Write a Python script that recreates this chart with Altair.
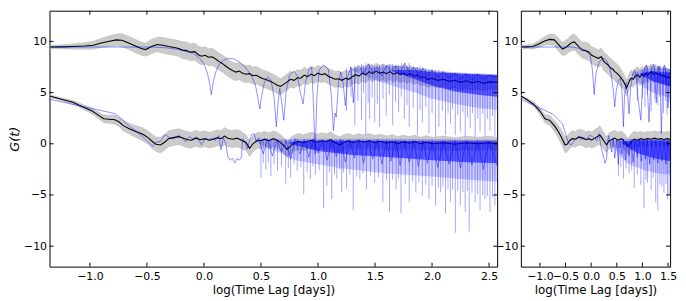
import altair as alt
import pandas as pd

# ---------------- axes ----------------
Y_DOMAIN = [-12, 13]
L_X_DOMAIN = [-1.354, 2.571]
R_X_DOMAIN = [-1.371, 1.54]
L_X_TICKS = [-1.0, -0.5, 0.0, 0.5, 1.0, 1.5, 2.0, 2.5]
R_X_TICKS = [-1.0, -0.5, 0.0, 0.5, 1.0, 1.5]
Y_TICKS = [-10, -5, 0, 5, 10]
X_TITLE = "log(Time Lag [days])"
Y_TITLE = "G(t)"

# ---------------- left panel ----------------
# mean curve: (x, y, half-width of grey band)
L_UP_MEAN = [
    (-1.354, 9.45, 0.12), (-1.25, 9.47, 0.15), (-1.15, 9.5, 0.2), (-1.05, 9.55, 0.25),
    (-0.97, 9.62, 0.3), (-0.9, 9.85, 0.35), (-0.84, 10.0, 0.4), (-0.77, 10.15, 0.45),
    (-0.72, 10.12, 0.5), (-0.66, 9.85, 0.5), (-0.6, 9.55, 0.5), (-0.55, 9.3, 0.5),
    (-0.51, 9.2, 0.5), (-0.46, 9.5, 0.55), (-0.41, 9.7, 0.55), (-0.36, 9.62, 0.6),
    (-0.31, 9.5, 0.6), (-0.26, 9.4, 0.6), (-0.22, 9.3, 0.6), (-0.19, 9.15, 0.65),
    (-0.15, 9.1, 0.65), (-0.12, 8.95, 0.65), (-0.08, 9.0, 0.65), (-0.05, 8.7, 0.65),
    (-0.02, 8.55, 0.65), (0.01, 8.65, 0.65), (0.04, 8.45, 0.65), (0.07, 8.5, 0.65),
    (0.1, 8.3, 0.65), (0.13, 8.05, 0.65), (0.16, 7.85, 0.65), (0.19, 7.6, 0.65),
    (0.22, 7.35, 0.65), (0.25, 7.15, 0.65), (0.28, 7.0, 0.65), (0.31, 7.1, 0.65),
    (0.34, 6.9, 0.65), (0.37, 6.8, 0.65), (0.4, 6.85, 0.65), (0.43, 6.65, 0.65),
    (0.46, 6.7, 0.65), (0.49, 6.5, 0.65), (0.52, 6.35, 0.65), (0.55, 6.25, 0.65),
    (0.58, 6.1, 0.65), (0.61, 5.95, 0.65), (0.64, 5.75, 0.65), (0.67, 5.6, 0.6),
    (0.7, 5.8, 0.6), (0.73, 6.05, 0.6), (0.76, 6.3, 0.6), (0.79, 6.2, 0.6),
    (0.82, 6.45, 0.6), (0.85, 6.4, 0.6), (0.88, 6.7, 0.6), (0.91, 6.55, 0.6),
    (0.94, 6.8, 0.6), (0.97, 6.65, 0.6), (1.0, 6.9, 0.6), (1.03, 6.75, 0.6),
    (1.06, 6.85, 0.6), (1.09, 6.6, 0.6), (1.12, 6.45, 0.6), (1.15, 6.3, 0.6),
    (1.18, 6.35, 0.6), (1.21, 6.2, 0.6), (1.24, 6.4, 0.6), (1.27, 6.3, 0.6),
    (1.3, 6.55, 0.6), (1.33, 6.75, 0.6), (1.36, 6.6, 0.6), (1.39, 6.9, 0.6),
    (1.42, 6.75, 0.6), (1.45, 7.05, 0.6), (1.48, 6.85, 0.6), (1.51, 7.1, 0.6),
    (1.54, 6.9, 0.6), (1.57, 7.0, 0.6), (1.6, 6.85, 0.6), (1.63, 7.05, 0.6),
    (1.66, 6.8, 0.6), (1.69, 6.95, 0.6), (1.72, 6.75, 0.6), (1.75, 6.9, 0.6),
    (1.78, 6.7, 0.6), (1.81, 6.85, 0.6), (1.84, 6.6, 0.6), (1.87, 6.7, 0.6),
    (1.9, 6.45, 0.6), (1.93, 6.55, 0.6), (1.96, 6.3, 0.6), (2.0, 6.4, 0.6),
    (2.05, 6.2, 0.55), (2.1, 6.3, 0.55), (2.15, 6.1, 0.55), (2.2, 6.2, 0.55),
    (2.25, 6.0, 0.55), (2.3, 6.15, 0.55), (2.35, 5.95, 0.55), (2.4, 6.1, 0.55),
    (2.45, 5.9, 0.55), (2.5, 6.05, 0.55), (2.571, 6.0, 0.55),
]
L_LO_MEAN = [
    (-1.354, 4.67, 0.1), (-1.25, 4.35, 0.12), (-1.15, 4.05, 0.15), (-1.06, 3.6, 0.18),
    (-0.98, 3.2, 0.22), (-0.92, 2.75, 0.25), (-0.88, 2.45, 0.3), (-0.83, 2.4, 0.3),
    (-0.78, 2.35, 0.35), (-0.74, 2.1, 0.35), (-0.71, 1.8, 0.4), (-0.66, 1.5, 0.4),
    (-0.6, 1.2, 0.45), (-0.54, 0.95, 0.5), (-0.49, 0.6, 0.5), (-0.45, 0.2, 0.55),
    (-0.42, -0.05, 0.55), (-0.38, -0.12, 0.6), (-0.34, 0.2, 0.6), (-0.31, 0.5, 0.6),
    (-0.27, 0.6, 0.6), (-0.22, 0.7, 0.6), (-0.18, 0.55, 0.6), (-0.14, 0.4, 0.6),
    (-0.11, 0.35, 0.6), (-0.07, 0.55, 0.6), (-0.03, 0.4, 0.6), (0.01, 0.5, 0.6),
    (0.05, 0.35, 0.6), (0.08, 0.45, 0.6), (0.12, 0.6, 0.6), (0.15, 0.5, 0.6),
    (0.18, 0.75, 0.65), (0.21, 0.55, 0.65), (0.25, 0.45, 0.65), (0.29, 0.55, 0.65),
    (0.33, 0.35, 0.65), (0.37, 0.1, 0.6), (0.4, -0.45, 0.6), (0.43, 0.0, 0.6),
    (0.47, 0.35, 0.6), (0.5, 0.3, 0.6), (0.53, 0.45, 0.6), (0.57, 0.3, 0.6),
    (0.61, 0.5, 0.6), (0.65, 0.3, 0.6), (0.69, -0.05, 0.6), (0.73, -0.55, 0.6),
    (0.76, -0.2, 0.6), (0.79, 0.05, 0.6), (0.83, 0.25, 0.6), (0.87, 0.1, 0.6),
    (0.91, 0.25, 0.6), (0.95, 0.35, 0.6), (0.99, 0.15, 0.6), (1.03, 0.3, 0.6),
    (1.07, 0.2, 0.6), (1.11, 0.4, 0.6), (1.15, 0.1, 0.6), (1.19, -0.1, 0.6),
    (1.23, 0.15, 0.6), (1.27, 0.3, 0.55), (1.31, 0.1, 0.55), (1.35, 0.3, 0.55),
    (1.4, 0.15, 0.55), (1.45, 0.3, 0.55), (1.5, 0.1, 0.55), (1.55, 0.25, 0.55),
    (1.6, 0.05, 0.55), (1.65, 0.2, 0.55), (1.7, 0.0, 0.55), (1.75, 0.2, 0.5),
    (1.8, 0.05, 0.5), (1.85, 0.2, 0.5), (1.9, 0.0, 0.5), (1.95, 0.15, 0.5),
    (2.0, 0.0, 0.5), (2.1, 0.1, 0.5), (2.2, -0.05, 0.5), (2.3, 0.1, 0.5),
    (2.4, 0.0, 0.5), (2.5, 0.1, 0.5), (2.571, 0.0, 0.5),
]
# single realisation (blue): (x, y)
L_UP_BLUE = [
    (-1.354, 9.45), (-0.45, 9.45), (-0.3, 9.35), (-0.2, 9.15), (-0.1, 8.85), (-0.04, 8.4),
    (0.0, 7.8), (0.03, 6.9), (0.05, 5.9), (0.065, 4.8), (0.08, 5.9), (0.1, 6.9),
    (0.13, 7.7), (0.17, 8.15), (0.21, 8.35), (0.26, 8.3), (0.31, 8.0), (0.36, 7.5),
    (0.41, 6.8), (0.45, 5.8), (0.475, 4.4), (0.49, 3.4), (0.505, 4.6), (0.53, 6.0),
    (0.56, 6.5), (0.59, 6.2), (0.615, 4.5), (0.635, 1.65), (0.65, 4.0), (0.665, 5.4),
    (0.68, 4.2), (0.7, 2.3), (0.72, 5.0), (0.75, 6.7), (0.79, 7.1), (0.82, 6.6),
    (0.845, 5.0), (0.87, 3.9), (0.89, 6.0), (0.92, 7.2), (0.945, 7.5), (0.96, 4.0),
    (0.975, -1.0), (0.99, 4.5), (1.01, 7.2), (1.05, 7.7), (1.09, 7.3), (1.115, 5.0),
    (1.135, 1.3), (1.15, 3.0), (1.16, 2.6), (1.18, 6.0), (1.2, 7.0), (1.22, 6.0),
    (1.24, 3.7), (1.26, 6.5), (1.29, 7.5), (1.31, 4.0), (1.33, 7.3), (1.36, 7.6),
    (1.4, 6.8), (1.44, 7.8), (1.48, 7.0), (1.52, 7.5), (1.56, 6.6), (1.6, 7.7),
    (1.64, 7.1), (1.68, 7.6), (1.72, 6.9), (1.76, 7.9), (1.8, 7.0), (1.84, 7.5),
    (1.88, 6.8), (1.92, 7.4), (1.96, 6.6), (2.0, 7.2), (2.05, 6.5), (2.1, 7.0),
    (2.15, 6.4), (2.2, 6.9), (2.25, 6.3), (2.3, 6.8), (2.35, 6.2), (2.4, 6.8),
    (2.45, 6.3), (2.5, 6.7), (2.571, 6.5),
]
L_LO_BLUE = [
    (-1.354, 4.35), (-0.78, 2.95), (-0.72, 2.4), (-0.66, 1.75), (-0.6, 1.3), (-0.55, 0.8),
    (-0.5, 0.3), (-0.45, -0.25), (-0.42, 0.15), (-0.38, 0.25), (-0.34, 0.9), (-0.3, 0.6),
    (-0.26, 0.5), (-0.22, 0.85), (-0.19, 0.55), (-0.16, 0.2), (-0.13, 0.7), (-0.1, 0.5),
    (-0.06, 0.65), (-0.02, -0.1), (0.01, 0.5), (0.04, 0.35), (0.07, 0.6), (0.1, 0.3),
    (0.13, 0.8), (0.15, -0.6), (0.17, 0.6), (0.19, 0.1), (0.21, -1.3), (0.23, -1.6),
    (0.25, -1.4), (0.27, -1.85), (0.29, -1.45), (0.31, -1.6), (0.33, -1.3), (0.34, 0.5),
    (0.36, 0.2), (0.38, -0.5), (0.4, 0.3), (0.42, 0.9), (0.44, 1.0), (0.46, 0.2),
    (0.48, 0.6), (0.52, -1.0), (0.56, 0.5), (0.6, -1.2), (0.64, 0.4), (0.68, -0.8),
    (0.72, 0.3), (0.76, -1.5), (0.8, 0.5), (0.84, -1.0), (0.88, 0.4), (0.92, -1.3),
    (0.96, 0.5), (1.0, -0.9), (1.04, 0.4), (1.08, -1.6), (1.12, 0.3), (1.16, -1.2),
    (1.2, 0.4), (1.24, -1.8), (1.28, 0.3), (1.32, -1.4), (1.36, 0.4), (1.4, -1.9),
    (1.44, 0.3), (1.48, -1.5), (1.52, 0.4), (1.56, -2.0), (1.6, 0.3), (1.64, -1.7),
    (1.68, 0.3), (1.72, -2.1), (1.76, 0.3), (1.8, -1.8), (1.84, 0.3), (1.88, -2.2),
    (1.92, 0.3), (1.96, -1.9), (2.0, 0.3), (2.05, -2.3), (2.1, 0.3), (2.15, -2.0),
    (2.2, 0.3), (2.25, -2.4), (2.3, 0.3), (2.35, -2.1), (2.4, 0.3), (2.45, -2.5),
    (2.5, 0.3), (2.571, -2.2),
]
# downward spikes of the blue curve: (x, top, bottom)
L_UP_SPIKES = [
    (1.251, 7.4, 3.2), (1.29, 7.5, 4.6), (1.323, 7.6, 1.8), (1.35, 7.7, 4.2), (1.381, 7.8, 2.3),
    (1.40, 7.6, 5.0), (1.419, 7.9, 0.85), (1.44, 7.7, 4.0), (1.453, 7.7, 2.45), (1.475, 7.8, 4.5),
    (1.497, 7.6, 2.1), (1.52, 7.7, 3.9), (1.54, 7.7, 1.65), (1.57, 7.8, 4.4), (1.598, 7.6, 2.75),
    (1.625, 7.7, 4.8), (1.655, 7.8, 1.8), (1.68, 7.6, 4.1), (1.707, 7.7, 3.1), (1.73, 7.9, 4.6),
    (1.757, 7.8, 2.45), (1.78, 7.7, 3.8), (1.8, 7.9, 1.65), (1.835, 7.6, 3.5), (1.872, 7.5, 0.85),
    (1.895, 7.6, 3.3), (1.915, 7.5, 2.1), (1.945, 7.4, 3.6), (1.973, 7.3, 1.0), (2.0, 7.3, 3.0),
    (2.031, 7.2, 0.7), (2.06, 7.2, 1.65), (2.09, 7.1, 3.2), (2.118, 7.0, 0.85), (2.14, 7.0, 3.0),
    (2.161, 7.0, 1.95), (2.18, 6.9, 3.4), (2.204, 6.9, 0.85), (2.225, 6.9, 2.8), (2.248, 6.9, 1.2),
    (2.27, 6.8, 3.1), (2.291, 6.8, 0.7), (2.31, 6.8, 2.6), (2.334, 6.8, 1.5), (2.355, 6.8, 3.0),
    (2.378, 6.8, 0.7), (2.40, 6.8, 2.5), (2.421, 6.8, 1.2), (2.445, 6.8, 2.9), (2.464, 6.8, 0.7),
    (2.485, 6.7, 2.4), (2.508, 6.7, 1.3), (2.53, 6.7, 2.7), (2.551, 6.7, 0.7),
]
L_LO_SPIKES = [
    (0.50, 0.5, -3.3), (0.52, 0.4, -1.9), (0.543, 0.5, -2.5), (0.565, 0.3, -1.8), (0.587, 0.5, -3.15),
    (0.615, 0.4, -2.0), (0.645, 0.4, -2.65), (0.68, 0.3, -2.2), (0.717, 0.4, -3.9), (0.74, 0.3, -2.4),
    (0.76, 0.4, -3.3), (0.79, 0.3, -2.0), (0.818, 0.5, -2.65), (0.85, 0.3, -2.3), (0.875, 0.4, -4.9),
    (0.905, 0.4, -2.8), (0.933, 0.4, -3.45), (0.955, 0.4, -2.2), (0.977, 0.4, -3.0), (1.01, 0.4, -2.6),
    (1.049, 0.4, -6.3), (1.078, 0.4, -4.1), (1.10, 0.4, -2.8), (1.121, 0.4, -5.4), (1.145, 0.4, -3.0),
    (1.165, 0.4, -3.45), (1.19, 0.4, -2.5), (1.208, 0.4, -4.75), (1.222, 0.4, -2.8), (1.251, 0.4, -4.4),
    (1.28, 0.4, -3.0), (1.309, 0.4, -6.5), (1.34, 0.4, -3.2), (1.367, 0.4, -3.45), (1.395, 0.4, -2.9),
    (1.425, 0.4, -4.4), (1.46, 0.4, -3.1), (1.497, 0.4, -3.8), (1.53, 0.4, -3.3), (1.569, 0.4, -5.7),
    (1.60, 0.4, -3.6), (1.627, 0.4, -6.65), (1.655, 0.4, -3.5), (1.685, 0.4, -4.4), (1.705, 0.4, -3.4),
    (1.728, 0.4, -6.8), (1.765, 0.4, -3.9), (1.8, 0.4, -5.7), (1.83, 0.4, -3.7), (1.858, 0.4, -4.75),
    (1.885, 0.4, -3.8), (1.915, 0.4, -5.05), (1.945, 0.4, -4.0), (1.973, 0.4, -5.4), (2.0, 0.4, -4.1),
    (2.031, 0.4, -6.0), (2.055, 0.4, -4.3), (2.075, 0.4, -4.75), (2.095, 0.4, -4.2), (2.118, 0.4, -6.8),
    (2.14, 0.4, -4.4), (2.161, 0.4, -5.7), (2.18, 0.4, -4.5), (2.204, 0.4, -8.7), (2.225, 0.4, -4.6),
    (2.248, 0.4, -6.0), (2.27, 0.4, -4.7), (2.291, 0.4, -6.65), (2.31, 0.4, -4.6), (2.326, 0.4, -8.55),
    (2.35, 0.4, -4.8), (2.378, 0.4, -5.7), (2.40, 0.4, -4.9), (2.421, 0.4, -6.5), (2.445, 0.4, -5.0),
    (2.464, 0.4, -5.4), (2.485, 0.4, -5.1), (2.508, 0.4, -6.65), (2.53, 0.4, -5.2), (2.551, 0.4, -6.0),
]
# envelopes of the dense blue region: (x, high, low)
L_UP_CORE_LIGHT = [(1.3, 7.3, 7.2), (1.5, 7.5, 6.2), (1.7, 7.6, 5.5), (1.85, 7.4, 5.0),
                   (2.0, 7.2, 4.4), (2.2, 7.0, 3.9), (2.4, 6.9, 3.5), (2.571, 6.8, 3.3)]
L_UP_CORE_DARK = [(1.65, 7.2, 7.1), (1.85, 7.2, 6.3), (2.0, 7.0, 5.7), (2.2, 6.9, 5.1),
                  (2.4, 6.8, 4.8), (2.571, 6.7, 4.6)]
L_LO_CORE_LIGHT = [(0.45, 0.4, 0.2), (0.8, 0.5, -1.6), (1.2, 0.5, -2.4), (1.6, 0.5, -2.9),
                   (2.0, 0.45, -3.2), (2.3, 0.4, -3.5), (2.571, 0.4, -3.7)]
L_LO_CORE_DARK = [(0.75, 0.2, 0.0), (1.0, 0.3, -0.7), (1.3, 0.3, -1.1), (1.6, 0.3, -1.3),
                  (2.0, 0.25, -1.6), (2.3, 0.25, -1.8), (2.571, 0.25, -1.9)]

# ---------------- right panel ----------------
R_UP_MEAN = [
    (-1.371, 9.45, 0.12), (-1.25, 9.47, 0.15), (-1.14, 9.5, 0.2), (-1.04, 9.7, 0.25),
    (-0.95, 9.95, 0.3), (-0.88, 10.1, 0.35), (-0.81, 10.2, 0.4), (-0.72, 10.15, 0.45),
    (-0.64, 9.7, 0.5), (-0.56, 9.25, 0.5), (-0.5, 9.4, 0.55), (-0.45, 9.6, 0.55),
    (-0.39, 9.85, 0.6), (-0.33, 9.95, 0.6), (-0.26, 9.6, 0.6), (-0.18, 9.15, 0.6),
    (-0.11, 9.1, 0.65), (-0.04, 8.95, 0.65), (0.01, 8.65, 0.65), (0.07, 8.5, 0.65),
    (0.14, 8.35, 0.65), (0.2, 8.5, 0.65), (0.24, 8.1, 0.7), (0.29, 7.85, 0.7),
    (0.33, 7.7, 0.7), (0.38, 7.4, 0.7), (0.42, 7.3, 0.7), (0.46, 7.05, 0.7),
    (0.5, 6.9, 0.7), (0.55, 6.65, 0.7), (0.59, 6.4, 0.65), (0.63, 6.1, 0.6),
    (0.66, 5.8, 0.6), (0.69, 5.45, 0.6), (0.72, 5.8, 0.6), (0.75, 6.2, 0.6),
    (0.78, 6.4, 0.6), (0.82, 6.3, 0.6), (0.86, 6.6, 0.6), (0.91, 6.75, 0.6),
    (0.95, 6.5, 0.6), (0.99, 6.8, 0.6), (1.03, 6.6, 0.6), (1.07, 6.9, 0.6),
    (1.11, 6.75, 0.6), (1.17, 7.05, 0.6), (1.22, 6.8, 0.6), (1.26, 6.95, 0.6),
    (1.3, 6.75, 0.6), (1.34, 6.85, 0.6), (1.38, 6.6, 0.6), (1.42, 6.7, 0.6),
    (1.46, 6.45, 0.6), (1.5, 6.55, 0.6), (1.54, 6.4, 0.6),
]
R_LO_MEAN = [
    (-1.371, 4.67, 0.1), (-1.25, 4.3, 0.12), (-1.12, 3.85, 0.18), (-1.0, 3.2, 0.25),
    (-0.9, 2.45, 0.3), (-0.85, 2.35, 0.35), (-0.81, 2.3, 0.35), (-0.75, 1.95, 0.4),
    (-0.7, 1.65, 0.45), (-0.63, 1.1, 0.5), (-0.57, 0.55, 0.55), (-0.51, -0.1, 0.6),
    (-0.47, -0.05, 0.6), (-0.42, 0.3, 0.6), (-0.37, 0.5, 0.6), (-0.3, 0.45, 0.6),
    (-0.24, 0.65, 0.6), (-0.18, 0.6, 0.6), (-0.1, 0.4, 0.6), (-0.04, 0.5, 0.6),
    (0.01, 0.36, 0.6), (0.07, 0.55, 0.65), (0.12, 0.7, 0.65), (0.17, 0.85, 0.7),
    (0.22, 0.5, 0.65), (0.26, 0.2, 0.65), (0.3, -0.1, 0.6), (0.35, 0.3, 0.6),
    (0.4, 0.4, 0.6), (0.46, 0.55, 0.6), (0.52, 0.35, 0.6), (0.59, 0.5, 0.6),
    (0.65, 0.2, 0.6), (0.72, -0.25, 0.6), (0.78, 0.2, 0.6), (0.84, 0.45, 0.6),
    (0.9, 0.35, 0.6), (0.97, 0.5, 0.55), (1.03, 0.4, 0.55), (1.1, 0.5, 0.55),
    (1.17, 0.45, 0.55), (1.24, 0.55, 0.55), (1.3, 0.45, 0.55), (1.36, 0.5, 0.55),
    (1.42, 0.4, 0.55), (1.48, 0.5, 0.55), (1.54, 0.45, 0.55),
]
R_UP_BLUE = [
    (-1.371, 9.45), (-0.37, 9.45), (-0.2, 9.3), (-0.1, 9.1), (-0.02, 8.6), (0.02, 7.4),
    (0.045, 5.8), (0.06, 4.8), (0.075, 5.9), (0.1, 7.0), (0.15, 7.9), (0.2, 8.25),
    (0.25, 8.35), (0.3, 8.15), (0.35, 7.6), (0.39, 6.8), (0.43, 5.3), (0.46, 3.6),
    (0.49, 5.2), (0.53, 6.2), (0.57, 6.4), (0.6, 5.2), (0.63, 1.65), (0.65, 4.6),
    (0.68, 6.0), (0.71, 5.0), (0.74, 2.9), (0.77, 5.5), (0.81, 6.8), (0.85, 7.2),
    (0.88, 6.5), (0.92, 4.2), (0.97, 2.3), (1.0, 5.6), (1.04, 7.4), (1.08, 7.7),
    (1.1, 5.0), (1.13, 2.1), (1.16, 5.9), (1.19, 7.5), (1.22, 7.8), (1.25, 6.0),
    (1.27, 4.0), (1.29, 6.2), (1.32, 7.6), (1.34, 7.2), (1.37, 1.0), (1.4, 6.5),
    (1.43, 7.7), (1.46, 7.0), (1.5, 3.5), (1.52, 6.9), (1.54, 6.8),
]
R_LO_BLUE = [
    (-1.371, 4.35), (-0.75, 2.9), (-0.65, 2.4), (-0.56, 1.95), (-0.5, 1.0), (-0.45, 0.2),
    (-0.43, 0.0), (-0.38, -0.1), (-0.33, 0.3), (-0.28, 0.6), (-0.24, 0.75), (-0.2, 0.4),
    (-0.14, 0.6), (-0.09, 0.4), (-0.03, 0.85), (0.02, 0.7), (0.07, 0.5), (0.11, 0.3),
    (0.15, 1.0), (0.19, -0.2), (0.22, -0.9), (0.24, -1.2), (0.27, -1.9), (0.3, -1.5),
    (0.32, 0.2), (0.34, 0.8), (0.37, 0.1), (0.4, -0.8), (0.43, 0.6), (0.46, -1.4),
    (0.5, 0.4), (0.53, -2.0), (0.56, 0.3), (0.6, -1.0), (0.63, 0.5), (0.67, -1.6),
    (0.7, 0.2), (0.74, -1.2), (0.78, 0.4), (0.82, -1.8), (0.86, 0.3), (0.9, -1.3),
    (0.94, 0.4), (0.98, -1.7), (1.02, 0.3), (1.06, -1.5), (1.1, 0.4), (1.14, -2.0),
    (1.18, 0.3), (1.22, -1.6), (1.26, 0.4), (1.3, -1.9), (1.34, 0.3), (1.38, -1.7),
    (1.42, 0.3), (1.46, -2.0), (1.5, 0.4), (1.54, -1.5),
]
R_UP_SPIKES = [
    (0.9, 7.0, 4.2), (1.0, 7.2, 4.5), (1.05, 7.5, 3.6), (1.1, 7.6, 4.8), (1.17, 7.6, 3.2),
    (1.24, 7.7, 4.4), (1.3, 7.6, 3.8), (1.34, 7.5, 4.6), (1.41, 7.6, 3.0), (1.45, 7.5, 4.2),
    (1.48, 7.4, 2.8), (1.52, 7.3, 4.0),
]
R_LO_SPIKES = [
    (0.53, 0.3, -3.1), (0.58, 0.3, -2.3), (0.63, 0.3, -3.4), (0.68, 0.3, -2.4), (0.74, 0.3, -2.9),
    (0.79, 0.3, -2.6), (0.84, 0.3, -4.3), (0.9, 0.3, -3.0), (0.97, 0.3, -4.0), (1.03, 0.3, -6.3),
    (1.07, 0.3, -3.5), (1.1, 0.3, -3.8), (1.17, 0.3, -4.5), (1.21, 0.3, -3.3), (1.26, 0.3, -5.7),
    (1.3, 0.3, -6.5), (1.34, 0.3, -4.0), (1.38, 0.3, -4.2), (1.42, 0.3, -4.8), (1.46, 0.3, -3.9),
    (1.49, 0.3, -5.4), (1.52, 0.3, -5.0),
]
R_UP_CORE_LIGHT = [(0.8, 6.9, 6.8), (1.0, 7.3, 5.6), (1.2, 7.4, 5.0), (1.4, 7.4, 4.7), (1.54, 7.3, 4.5)]
R_UP_CORE_DARK = [(0.95, 6.9, 6.8), (1.2, 7.1, 6.1), (1.4, 7.0, 5.8), (1.54, 7.0, 5.6)]
R_LO_CORE_LIGHT = [(0.35, 0.3, 0.1), (0.7, 0.5, -1.9), (1.0, 0.5, -2.5), (1.3, 0.5, -2.9), (1.54, 0.5, -3.0)]
R_LO_CORE_DARK = [(0.6, 0.2, 0.0), (0.9, 0.35, -0.9), (1.2, 0.35, -1.4), (1.54, 0.3, -1.7)]

# ---------------- styling ----------------
BLUE = "#0000ff"
BAND = "#c8c8c8"
BAND_SCALE = 1.3   # correction of the read-off band half-widths
HEIGHT = 259
FONT = "DejaVu Sans"


def mean_df(up, lo):
    rows = []
    for s, data in (("up", up), ("lo", lo)):
        for x, y, w in data:
            rows.append({"s": s, "x": x, "y": y,
                         "lo": y - w * BAND_SCALE, "hi": y + w * BAND_SCALE})
    return pd.DataFrame(rows)


def xy_df(up, lo):
    rows = []
    for s, data in (("up", up), ("lo", lo)):
        for x, y in data:
            rows.append({"s": s, "x": x, "y": y})
    return pd.DataFrame(rows)


def env_df(up, lo):
    rows = []
    for s, data in (("up", up), ("lo", lo)):
        for x, hi, lo_ in data:
            rows.append({"s": s, "x": x, "hi": hi, "lo": lo_})
    return pd.DataFrame(rows)


def panel(xdom, xticks, width, mean_up, mean_lo, blue_up, blue_lo, sp_up, sp_lo,
          cl_up, cl_lo, cd_up, cd_lo, show_ytitle):
    xs = alt.Scale(domain=xdom, nice=False, zero=False)
    ys = alt.Scale(domain=Y_DOMAIN, nice=False, zero=False)
    xaxis = alt.Axis(values=xticks, format=".1f", title=X_TITLE, labelFlush=False,
                     labelOverlap=False, labelPadding=4, titlePadding=3,
                     titleFontSize=12, titleFontWeight="normal")
    if show_ytitle:
        yaxis = alt.Axis(values=Y_TICKS, format="d", title=Y_TITLE, labelPadding=3,
                         titlePadding=2, titleFontSize=13, titleFontStyle="italic",
                         titleFontWeight="normal")
    else:
        yaxis = alt.Axis(values=Y_TICKS, format="d", title=None, labelPadding=3)

    def X(f):
        return alt.X(f"{f}:Q", scale=xs, axis=xaxis)

    def Y(f):
        return alt.Y(f"{f}:Q", scale=ys, axis=yaxis)

    mdf = mean_df(mean_up, mean_lo)
    bdf = xy_df(blue_up, blue_lo)
    sdf = env_df(sp_up, sp_lo)
    cl = env_df(cl_up, cl_lo)
    cd = env_df(cd_up, cd_lo)

    band = alt.Chart(mdf).mark_area(color=BAND, opacity=0.95, clip=True).encode(
        x=X("x"), y=Y("lo"), y2="hi:Q", detail="s:N")
    band_edge_hi = alt.Chart(mdf).mark_line(color="#999999", strokeWidth=0.5, opacity=0.5, clip=True).encode(
        x=X("x"), y=Y("hi"), detail="s:N")
    band_edge_lo = alt.Chart(mdf).mark_line(color="#999999", strokeWidth=0.5, opacity=0.5, clip=True).encode(
        x=X("x"), y=Y("lo"), detail="s:N")
    black = alt.Chart(mdf).mark_line(color="black", strokeWidth=1.1, clip=True).encode(
        x=X("x"), y=Y("y"), detail="s:N")
    core_light = alt.Chart(cl).mark_area(color=BLUE, opacity=0.2, clip=True).encode(
        x=X("x"), y=Y("lo"), y2="hi:Q", detail="s:N")
    core_dark = alt.Chart(cd).mark_area(color=BLUE, opacity=0.55, clip=True).encode(
        x=X("x"), y=Y("lo"), y2="hi:Q", detail="s:N")
    spikes = alt.Chart(sdf).mark_rule(color=BLUE, opacity=0.45, strokeWidth=0.8, clip=True).encode(
        x=X("x"), y=Y("lo"), y2="hi:Q")
    blue = alt.Chart(bdf).mark_line(color=BLUE, opacity=0.55, strokeWidth=0.8, clip=True).encode(
        x=X("x"), y=Y("y"), detail="s:N")

    xt = pd.DataFrame({"x": xticks})
    yt = pd.DataFrame({"y": Y_TICKS})
    tick_b = alt.Chart(xt).mark_rule(color="black").encode(
        x=X("x"), y=alt.value(HEIGHT), y2=alt.value(HEIGHT - 4))
    tick_t = alt.Chart(xt).mark_rule(color="black").encode(
        x=X("x"), y=alt.value(0), y2=alt.value(4))
    tick_l = alt.Chart(yt).mark_rule(color="black").encode(
        y=Y("y"), x=alt.value(0), x2=alt.value(4))
    tick_r = alt.Chart(yt).mark_rule(color="black").encode(
        y=Y("y"), x=alt.value(width - 4), x2=alt.value(width))

    return alt.layer(band, band_edge_hi, band_edge_lo, black, core_light, core_dark,
                     spikes, blue, tick_b, tick_t, tick_l, tick_r).properties(
        width=width, height=HEIGHT)


left = panel(L_X_DOMAIN, L_X_TICKS, 453, L_UP_MEAN, L_LO_MEAN, L_UP_BLUE, L_LO_BLUE,
             L_UP_SPIKES, L_LO_SPIKES, L_UP_CORE_LIGHT, L_LO_CORE_LIGHT,
             L_UP_CORE_DARK, L_LO_CORE_DARK, True)
right = panel(R_X_DOMAIN, R_X_TICKS, 151, R_UP_MEAN, R_LO_MEAN, R_UP_BLUE, R_LO_BLUE,
              R_UP_SPIKES, R_LO_SPIKES, R_UP_CORE_LIGHT, R_LO_CORE_LIGHT,
              R_UP_CORE_DARK, R_LO_CORE_DARK, False)

chart = alt.hconcat(left, right, spacing=24, bounds="flush").properties(
    padding={"left": 0, "top": 0, "right": 0, "bottom": 0}
).configure_view(
    stroke="black", strokeWidth=1
).configure_axis(
    labelFont=FONT, titleFont=FONT, labelFontSize=11, labelColor="black",
    titleColor="black", grid=False, domain=False, ticks=False
)

chart.save("out.html", embed_options={"renderer": "svg", "actions": False})
